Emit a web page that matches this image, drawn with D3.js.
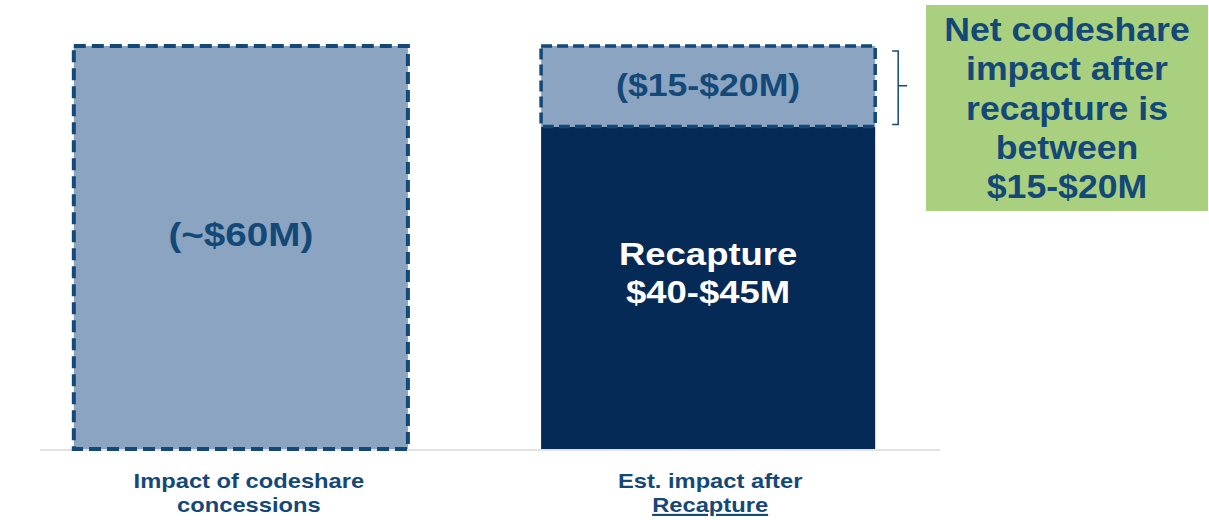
<!DOCTYPE html>
<html>
<head>
<meta charset="utf-8">
<script src="https://cdn.jsdelivr.net/npm/d3@7"></script>
<style>
  body { margin: 0; background: #fff; }
  svg { display: block; font-family: 'Liberation Sans', Arial, sans-serif; font-weight: bold; }
</style>
</head>
<body>
<svg></svg>
<script>
'use strict';

const svgWidth = 1209;
const svgHeight = 520;

// data
const categories = ['concessions', 'recapture'];
const categoryLabels = [['Impact of codeshare', 'concessions'], ['Est. impact after', 'Recapture']];
const concessionImpact = [60];          // ~$60M, shown as a dashed "hole"
const recaptureValue = [48];            // dark solid part (recapture $40-$45M)
const netImpact = [12];                 // dashed part on top ($15-$20M)
const barLabels = ['(~$60M)', '($15-$20M)'];
const recaptureLabel = ['Recapture', '$40-$45M'];
const calloutLines = ['Net codeshare', 'impact after', 'recapture is', 'between', '$15-$20M'];

const navy = '#062a56';
const lightBlue = '#8aa4c1';
const dashBlue = '#144878';
const textBlue = '#144877';

const svg = d3.select('svg')
  .attr('width', svgWidth)
  .attr('height', svgHeight);

const x = d3.scaleBand()
  .domain(categories)
  .range([7, 942])
  .paddingInner(0.285)
  .paddingOuter(0.143);

const y = d3.scaleLinear()
  .domain([0, 60])
  .range([449, 46]);

// the source text is a bit wider than the font, so stretch it sideways
function label(px, py, sx, size, fill, str) {
  return svg.append('text')
    .attr('transform', `translate(${px},${py}) scale(${sx},1)`)
    .attr('text-anchor', 'middle')
    .attr('font-size', size)
    .attr('fill', fill)
    .text(str);
}

// baseline
svg.append('line')
  .attr('x1', 40).attr('x2', 940)
  .attr('y1', y(0) + 1).attr('y2', y(0) + 1)
  .attr('stroke', '#d9d9d9')
  .attr('stroke-width', 1.5);

// left bar: dashed total
svg.append('rect')
  .attr('x', x('concessions'))
  .attr('y', y(concessionImpact[0]))
  .attr('width', x.bandwidth())
  .attr('height', y(0) - y(concessionImpact[0]))
  .attr('fill', lightBlue)
  .attr('stroke', dashBlue)
  .attr('stroke-width', 4)
  .attr('stroke-dasharray', '12 6');

// right bar: recapture (solid)
svg.append('rect')
  .attr('x', x('recapture'))
  .attr('y', y(recaptureValue[0]))
  .attr('width', x.bandwidth())
  .attr('height', y(0) - y(recaptureValue[0]))
  .attr('fill', navy);

// right bar: net impact (dashed)
const netTop = recaptureValue[0] + netImpact[0];
svg.append('rect')
  .attr('x', x('recapture'))
  .attr('y', y(netTop))
  .attr('width', x.bandwidth())
  .attr('height', y(recaptureValue[0]) - y(netTop))
  .attr('fill', lightBlue)
  .attr('stroke', dashBlue)
  .attr('stroke-width', 3.5)
  .attr('stroke-dasharray', '11 5');

// bar labels
const cx = c => x(c) + x.bandwidth() / 2;

label(cx('concessions'), y(concessionImpact[0] / 2) - 2, 1.17, 33, textBlue, barLabels[0]);
label(cx('recapture'), y(recaptureValue[0] + netImpact[0] / 2) + 10, 1.15, 31, textBlue, barLabels[1]);
label(cx('recapture'), y(recaptureValue[0] / 2) - 23, 1.14, 32, '#fff', recaptureLabel[0]);
label(cx('recapture'), y(recaptureValue[0] / 2) + 15, 1.14, 32, '#fff', recaptureLabel[1]);

// category labels (left one sits a little right of its bar in the original)
categories.forEach((c, i) => {
  const shift = i === 0 ? 8 : 2;
  categoryLabels[i].forEach((line, j) => {
    label(cx(c) + shift, y(0) + 39 + j * 24, 1.13, 21, textBlue, line)
      .attr('text-decoration', i === 1 && j === 1 ? 'underline' : null);
  });
});

// bracket beside net segment
const bx = x('recapture') + x.bandwidth() + 17;
const bTop = y(netTop) + 5;
const bBot = y(recaptureValue[0]) - 2;
const bMid = (bTop + bBot) / 2 - 2;
svg.append('path')
  .attr('d', `M${bx},${bTop} L${bx + 6},${bTop} L${bx + 6},${bBot} L${bx},${bBot}` +
    ` M${bx + 6},${bMid} L${bx + 15},${bMid}`)
  .attr('fill', 'none')
  .attr('stroke', dashBlue)
  .attr('stroke-width', 1.5);

// callout box
svg.append('rect')
  .attr('x', 926).attr('y', 5)
  .attr('width', 282).attr('height', 206)
  .attr('fill', '#a8d07f');

calloutLines.forEach((line, i) => {
  label(1067, 41 + i * 39.3, 1.08, 33, textBlue, line);
});
</script>
</body>
</html>
